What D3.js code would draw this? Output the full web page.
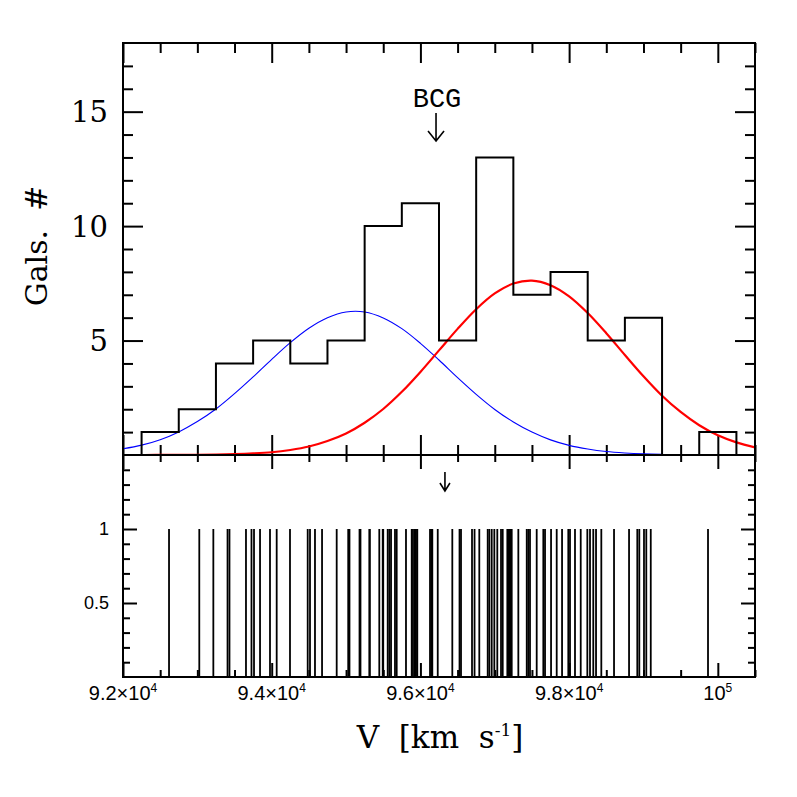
<!DOCTYPE html>
<html><head><meta charset="utf-8">
<script src="https://cdn.jsdelivr.net/npm/d3@7/dist/d3.min.js"></script>
<style>body{margin:0;background:#fff} text{white-space:pre}</style>
</head><body><svg id="c" width="797" height="797" xmlns="http://www.w3.org/2000/svg"></svg>
<script>
// ---------------- data ----------------
const binLower = [92250,92750,93250,93750,94250,94750,95250,95750,96250,96750,97250,97750,98250,98750,99250,99750];
const binWidth = 500;
const binCounts = [1,2,4,5,4,5,10,11,5,13,7,8,5,6,0,1];

const fitV = [92000,92250,92500,92750,93000,93250,93500,93750,94000,94250,94500,94750,95000,95250,95500,95750,96000,96250,96500,96750,97000,97250,97500,97750,98000,98250,98500,98750,99000,99250,99500,99750,100000,100250,100500];
const blueFit = [0.27,0.43,0.67,1.01,1.46,2.01,2.68,3.41,4.18,4.91,5.54,6.00,6.25,6.25,5.99,5.52,4.88,4.15,3.38,2.65,1.99,1.44,1.00,0.66,0.42,0.26,0.15,0.087,0.047,0.025,0.012,0.006,0.002,0.001,0.0003];
const redFit = [0.0003,0.0007,0.0016,0.004,0.008,0.017,0.035,0.067,0.12,0.22,0.37,0.61,0.94,1.41,2.01,2.76,3.63,4.57,5.51,6.37,7.06,7.49,7.62,7.42,6.93,6.20,5.32,4.37,3.44,2.59,1.88,1.30,0.86,0.55,0.33];

const galaxyV = [92619,93026,93215,93406,93432,93654,93728,93762,93843,93977,94067,94246,
  94484,94515,94582,94677,94874,95029,95046,95181,95194,95313,95320,95447,95493,95500,
  95560,95582,95605,95658,95681,95806,95883,95900,95921,95930,95941,95958,96129,96145,
  96160,96233,96429,96526,96546,96694,96728,96792,96905,96927,96959,96994,97034,97084,
  97107,97169,97185,97199,97212,97228,97317,97430,97451,97474,97564,97653,97676,97757,
  97833,97905,97989,98012,98079,98156,98245,98281,98325,98362,98433,98604,98806,98917,
  98944,99007,99038,99098,99868];
const galaxyHeight = 1;

const bcgLabel = "BCG";
const bcgTopV = 96210;
const bcgBottomV = 96330;

const xDomain = [92000, 100500];
const xMajor = [92000,94000,96000,98000,100000];
const xMinorStep = 500;
const xTickLabels = [["9.2×10","4"],["9.4×10","4"],["9.6×10","4"],["9.8×10","4"],["10","5"]];
const yTopDomain = [0, 18];
const yTopMajor = [5,10,15];
const yTopLabels = ["5","10","15"];
const yBotDomain = [0, 1.5];
const yBotMajor = [0.5,1];
const yBotLabels = ["0.5","1"];
const yTitle = "Gals.  #";
const xTitleMain = "V  [km  s";
const xTitleSup = "-1";
const xTitleEnd = "]";

// ---------------- drawing ----------------
const svg = d3.select("#c");
svg.append("rect").attr("width",797).attr("height",797).attr("fill","#fff");
const L = 123, R = 755, T = 43, M = 455, B = 677;
const x = d3.scaleLinear().domain(xDomain).range([L, R]);
const yT = d3.scaleLinear().domain(yTopDomain).range([M, T]);
const yB = d3.scaleLinear().domain(yBotDomain).range([B, M]);

const xMinor = d3.range(xDomain[0], xDomain[1] + 1, xMinorStep).filter(v => !xMajor.includes(v));
const yTopMinor = d3.range(1, 18).filter(v => !yTopMajor.includes(v));
const yBotMinor = d3.range(1, 15).map(v => v / 10).filter(v => !yBotMajor.some(m => Math.abs(m - v) < 1e-9));

function tickGroup(axisFn, scale, values, size, tx, ty) {
  const g = svg.append("g").attr("transform", `translate(${tx},${ty})`)
    .call(axisFn(scale).tickValues(values).tickSize(size).tickFormat(""));
  g.select(".domain").remove();
  g.selectAll(".tick line").attr("stroke", "#000").attr("stroke-width", 2);
}
// top panel ticks
tickGroup(d3.axisBottom, x, xMajor, -20, 0, M);
tickGroup(d3.axisBottom, x, xMinor, -10, 0, M);
tickGroup(d3.axisTop, x, xMajor, -20, 0, T);
tickGroup(d3.axisTop, x, xMinor, -10, 0, T);
tickGroup(d3.axisLeft, yT, yTopMajor, -20, L, 0);
tickGroup(d3.axisLeft, yT, yTopMinor, -10, L, 0);
tickGroup(d3.axisRight, yT, yTopMajor, -20, R, 0);
tickGroup(d3.axisRight, yT, yTopMinor, -10, R, 0);
// bottom panel ticks
tickGroup(d3.axisTop, x, xMajor, -14, 0, M);
tickGroup(d3.axisTop, x, xMinor, -7, 0, M);
tickGroup(d3.axisBottom, x, xMajor, -14, 0, B);
tickGroup(d3.axisBottom, x, xMinor, -7, 0, B);
tickGroup(d3.axisLeft, yB, yBotMajor, -14, L, 0);
tickGroup(d3.axisLeft, yB, yBotMinor, -7, L, 0);
tickGroup(d3.axisRight, yB, yBotMajor, -14, R, 0);
tickGroup(d3.axisRight, yB, yBotMinor, -7, R, 0);

// clip paths
const defs = svg.append("defs");
defs.append("clipPath").attr("id","clipTop").append("rect").attr("x",L).attr("y",T).attr("width",R-L).attr("height",M-T);

// gaussian fits
const fitLine = arr => d3.line().x((d,i) => x(fitV[i])).y(d => yT(d)).curve(d3.curveCatmullRom)(arr);
svg.append("path").attr("d", fitLine(blueFit)).attr("fill","none").attr("stroke","#0000ff").attr("stroke-width",1.1).attr("clip-path","url(#clipTop)");
svg.append("path").attr("d", fitLine(redFit)).attr("fill","none").attr("stroke","#ff0000").attr("stroke-width",2.2).attr("clip-path","url(#clipTop)");

// histogram outline
const histPts = [[binLower[0], 0]];
binLower.forEach((lo, i) => { histPts.push([lo, binCounts[i]]); histPts.push([lo + binWidth, binCounts[i]]); });
histPts.push([binLower[binLower.length-1] + binWidth, 0]);
svg.append("path").attr("d", d3.line().x(d => x(d[0])).y(d => yT(d[1]))(histPts))
  .attr("fill","none").attr("stroke","#000").attr("stroke-width",2).attr("stroke-linejoin","miter");

// galaxy velocity lines
svg.append("g").selectAll("line").data(galaxyV).join("line")
  .attr("x1", d => x(d)).attr("x2", d => x(d))
  .attr("y1", yB(0)).attr("y2", yB(galaxyHeight))
  .attr("stroke","#000").attr("stroke-width",1.8);

// frames
svg.append("rect").attr("x",L).attr("y",T).attr("width",R-L).attr("height",M-T).attr("fill","none").attr("stroke","#000").attr("stroke-width",2);
svg.append("rect").attr("x",L).attr("y",M).attr("width",R-L).attr("height",B-M).attr("fill","none").attr("stroke","#000").attr("stroke-width",2);

// BCG marker (top)
const bx = x(bcgTopV);
svg.append("text").attr("x", bx + 1).attr("y", 107).attr("text-anchor","middle")
  .attr("font-family","'Liberation Mono', 'DejaVu Sans Mono', monospace").attr("font-size",27).text(bcgLabel);
svg.append("path").attr("d", `M${bx},113 L${bx},141 M${bx-8},131 L${bx},141 L${bx+8},131`)
  .attr("fill","none").attr("stroke","#000").attr("stroke-width",1.6);
// BCG marker (bottom)
const bx2 = x(bcgBottomV);
svg.append("path").attr("d", `M${bx2},472 L${bx2},491 M${bx2-5},483 L${bx2},491 L${bx2+5},483`)
  .attr("fill","none").attr("stroke","#000").attr("stroke-width",1.6);

// tick labels
const serif = "'DejaVu Serif', 'Liberation Serif', serif";
const sans = "'Liberation Sans', Arial, sans-serif";
yTopMajor.forEach((v, i) => {
  svg.append("text").attr("x", 108).attr("y", yT(v)).attr("dy","0.36em").attr("text-anchor","end")
    .attr("font-family", serif).attr("font-size", 29).text(yTopLabels[i]);
});
yBotMajor.forEach((v, i) => {
  svg.append("text").attr("x", 109).attr("y", yB(v)).attr("dy","0.36em").attr("text-anchor","end")
    .attr("font-family", sans).attr("font-size", 18).text(yBotLabels[i]);
});
xMajor.forEach((v, i) => {
  const t = svg.append("text").attr("x", x(v)).attr("y", 700).attr("text-anchor","middle")
    .attr("font-family", sans).attr("font-size", 20);
  t.append("tspan").text(xTickLabels[i][0]);
  t.append("tspan").attr("dy", -8).attr("font-size", 12).text(xTickLabels[i][1]);
});

// axis titles
svg.append("text").attr("transform","translate(47,246) rotate(-90)").attr("text-anchor","middle")
  .attr("font-family", serif).attr("font-size", 30).text(yTitle);
const xt = svg.append("text").attr("x", 440).attr("y", 748).attr("text-anchor","middle")
  .attr("font-family", serif).attr("font-size", 31);
xt.append("tspan").text(xTitleMain);
xt.append("tspan").attr("dy", -12).attr("font-size", 17).text(xTitleSup);
xt.append("tspan").attr("dy", 12).text(xTitleEnd);
</script>
</body></html>
